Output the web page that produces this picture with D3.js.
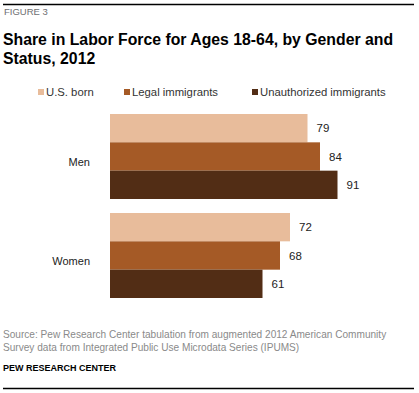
<!DOCTYPE html>
<html lang="en">
<head>
    <meta charset="UTF-8">
    <title>Share in Labor Force</title>
    <style>
        body { margin: 0; background: #fff; }
        text { font-family: "Liberation Sans", Arial, sans-serif; }
    </style>
</head>
<body>
<script src="https://d3js.org/d3.v7.min.js"></script>
<script>
    var categories = ["Men", "Women"];
    var seriesNames = ["U.S. born", "Legal immigrants", "Unauthorized immigrants"];
    var usBorn = [79, 72];
    var legal = [84, 68];
    var unauthorized = [91, 61];
    var colors = ["#e8bc9b", "#a55a26", "#522d15"];

    var W = 419, H = 393;
    var svg = d3.select("body").append("svg")
        .attr("width", W)
        .attr("height", H);

    // rules top and bottom
    svg.append("line").attr("x1", 3).attr("x2", 414).attr("y1", 4.5).attr("y2", 4.5)
        .attr("stroke", "#000").attr("stroke-width", 1.5);
    svg.append("line").attr("x1", 3).attr("x2", 414).attr("y1", 388.5).attr("y2", 388.5)
        .attr("stroke", "#000").attr("stroke-width", 1.5);

    svg.append("text").attr("x", 4).attr("y", 15)
        .style("font-size", "9.5px").style("fill", "#6d6e71")
        .text("FIGURE 3");

    var title = svg.append("text").style("font-size", "15.8px").style("font-weight", "bold").style("fill", "#000");
    title.append("tspan").attr("x", 3).attr("y", 45).text("Share in Labor Force for Ages 18-64, by Gender and");
    title.append("tspan").attr("x", 3).attr("y", 64).text("Status, 2012");

    // legend
    var legendX = [38, 124, 252];
    var legend = svg.selectAll(".leg").data(seriesNames).enter().append("g")
        .attr("class", "leg")
        .attr("transform", function(d, i) { return "translate(" + legendX[i] + ",89)"; });
    legend.append("rect").attr("width", 6).attr("height", 6)
        .attr("fill", function(d, i) { return colors[i]; });
    legend.append("text").attr("x", 8).attr("y", 7)
        .style("font-size", "11.3px").style("fill", "#333")
        .text(function(d) { return d; });

    var data = categories.map(function(c, i) {
        return { cat: c, vals: [usBorn[i], legal[i], unauthorized[i]] };
    });

    var x = d3.scaleLinear().domain([0, 100]).range([110, 360]);
    var y0 = d3.scaleBand().domain(categories).range([114, 298]).paddingInner(14 / 99).paddingOuter(0);
    var y1 = d3.scaleBand().domain(d3.range(3)).range([0, y0.bandwidth()]);

    var groups = svg.selectAll(".grp").data(data).enter().append("g")
        .attr("class", "grp")
        .attr("transform", function(d) { return "translate(0," + y0(d.cat) + ")"; });

    groups.append("text")
        .attr("x", 90).attr("y", y0.bandwidth() / 2 + 9)
        .attr("text-anchor", "end")
        .style("font-size", "11px").style("fill", "#222")
        .text(function(d) { return d.cat; });

    var bars = groups.selectAll(".bar").data(function(d) { return d.vals; }).enter();
    bars.append("rect")
        .attr("x", x(0))
        .attr("y", function(d, i) { return y1(i); })
        .attr("width", function(d) { return x(d) - x(0); })
        .attr("height", y1.bandwidth())
        .attr("fill", function(d, i) { return colors[i]; });
    bars.append("text")
        .attr("x", function(d) { return x(d) + 9; })
        .attr("y", function(d, i) { return y1(i) + y1.bandwidth() / 2 + 4; })
        .style("font-size", "11.5px").style("fill", "#222")
        .text(function(d) { return d; });

    var src = svg.append("text").style("font-size", "10.1px").style("fill", "#8a8a8a");
    src.append("tspan").attr("x", 3).attr("y", 338)
        .text("Source: Pew Research Center tabulation from augmented 2012 American Community");
    src.append("tspan").attr("x", 3).attr("y", 351)
        .text("Survey data from Integrated Public Use Microdata Series (IPUMS)");

    svg.append("text").attr("x", 3).attr("y", 371)
        .style("font-size", "9px").style("font-weight", "bold").style("fill", "#000")
        .text("PEW RESEARCH CENTER");
</script>
</body>
</html>
